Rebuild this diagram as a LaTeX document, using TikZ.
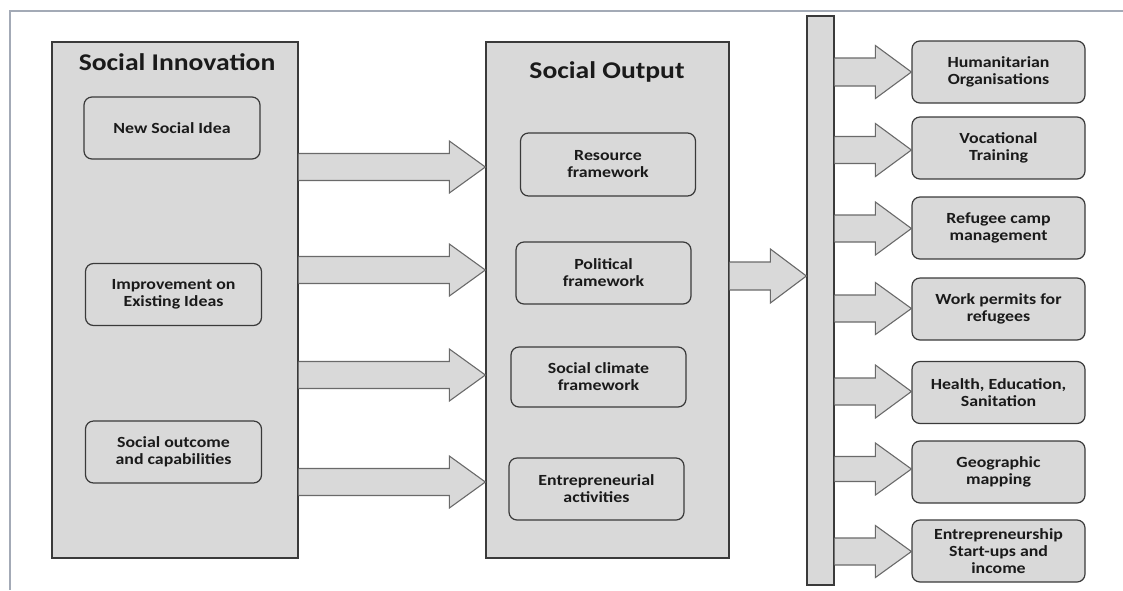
\documentclass[tikz,border=0pt]{standalone}
\usepackage{fontspec}
\setmainfont{Carlito}[FakeStretch=1.15]
\usetikzlibrary{calc}
\definecolor{boxfill}{HTML}{D9D9D9}
\definecolor{boxline}{HTML}{3A3A3A}
\definecolor{arrline}{HTML}{6A6A6A}
\definecolor{frameline}{HTML}{A3AAB6}
\definecolor{txt}{HTML}{1A1A1A}
\tikzset{
  container/.style={draw=boxline, line width=1.3pt, fill=boxfill, inner sep=0pt},
  item/.style={draw=boxline, line width=1.2pt, fill=boxfill, rounded corners=8pt, inner sep=0pt,
    minimum width=175pt, minimum height=62pt, align=center, text=txt,
    font=\fontsize{15.5}{17}\selectfont\bfseries},
  title/.style={anchor=base, text=txt, font=\fontsize{24}{28}\selectfont\bfseries},
  fatarr/.style={draw=arrline, line width=1.1pt, fill=boxfill, line join=miter},
}
\newcommand\fatarrow[5]{%
  \draw[fatarr] let \p1=(#1.east), \p2=(#2.west) in
    (\x1,#3-#4) -- (\x2-36pt,#3-#4) -- (\x2-36pt,#3-#5) -- (\x2,#3)
    -- (\x2-36pt,#3+#5) -- (\x2-36pt,#3+#4) -- (\x1,#3+#4);}
\begin{document}
\begin{tikzpicture}[x=1pt,y=-1pt]
\useasboundingbox (0,0) rectangle (1123,590);
\draw[frameline, line width=1.2pt] (10,590) -- (10,11) -- (1123,11);
% containers
\node[container, minimum width=246pt, minimum height=516pt] (si) at (175,300) {};
\node[container, minimum width=243pt, minimum height=516pt] (so) at (607.5,300) {};
\node[container, minimum width=27pt, minimum height=569pt] (bar) at (820.5,300.5) {};
\node[title] (sit) at (177,70) {Social Innovation};
\node[title] (sot) at (607,78) {Social Output};
% left items
\node[item, minimum width=176pt] (n1) at (172,128) {New Social Idea};
\node[item, minimum width=176pt] (n2) at (173.5,294.5) {Improvement on\\Existing Ideas};
\node[item, minimum width=176pt] (n3) at (173.5,452) {Social outcome\\and capabilities};
% middle items
\node[item, minimum height=63pt] (m1) at (608,164.5) {Resource\\framework};
\node[item] (m2) at (603.5,273) {Political\\framework};
\node[item, minimum height=60pt] (m3) at (598.5,377) {Social climate\\framework};
\node[item] (m4) at (596.5,489) {Entrepreneurial\\activities};
% right items
\node[item, minimum width=173pt] (r1) at (998.5,72) {Humanitarian\\Organisations};
\node[item, minimum width=173pt] (r2) at (998.5,148) {Vocational\\Training};
\node[item, minimum width=173pt] (r3) at (998.5,228) {Refugee camp\\management};
\node[item, minimum width=173pt] (r4) at (998.5,309) {Work permits for\\refugees};
\node[item, minimum width=173pt] (r5) at (998.5,392.5) {Health, Education,\\Sanitation};
\node[item, minimum width=173pt] (r6) at (998.5,472) {Geographic\\mapping};
\node[item, minimum width=173pt] (r7) at (998.5,551) {Entrepreneurship\\Start-ups and\\income};
% arrows from Social Innovation to Social Output
\fatarrow{si}{so}{167}{13.5}{26}
\fatarrow{si}{so}{270}{13.5}{26}
\fatarrow{si}{so}{375}{13.5}{26}
\fatarrow{si}{so}{482}{13.5}{26}
% arrow to bar
\fatarrow{so}{bar}{276}{14}{27}
% arrows from bar to outcomes
\fatarrow{bar}{r1}{72}{14}{26.5}
\fatarrow{bar}{r2}{150}{13.5}{26.5}
\fatarrow{bar}{r3}{228.5}{13.5}{26.5}
\fatarrow{bar}{r4}{308.5}{13.5}{26}
\fatarrow{bar}{r5}{391.5}{13.5}{26.5}
\fatarrow{bar}{r6}{469}{12.5}{26}
\fatarrow{bar}{r7}{551.5}{13.5}{26}
\end{tikzpicture}
\end{document}
